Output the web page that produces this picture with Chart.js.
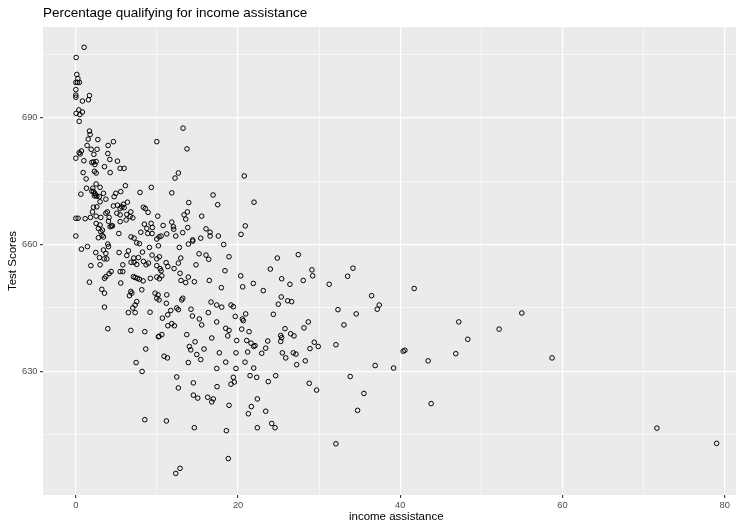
<!DOCTYPE html>
<html>
<head>
<meta charset="utf-8">
<script src="https://cdn.jsdelivr.net/npm/chart.js@4"></script>
<style>
  html, body { margin: 0; padding: 0; background: #ffffff; }
  #wrap { width: 742px; height: 523px; }
</style>
</head>
<body>
<div id="wrap"><canvas id="chart" width="742" height="523"></canvas></div>
<script>
// Share of pupils qualifying for income assistance (%) per school district
const incomeAssistance = [
  1.02,0.04,0.12,0.25,0.0,0.2,0.44,0.0,0.0,0.0,
  1.68,1.55,0.81,0.37,0.04,0.49,0.81,0.41,1.68,1.76,
  1.52,2.71,9.98,4.63,3.98,1.39,1.89,2.62,2.22,0.69,
  0.41,0.53,3.94,0.0,0.99,1.97,2.17,2.50,2.34,4.19,
  5.13,5.46,5.95,3.53,0.90,2.29,2.50,4.23,

  1.27,2.50,2.99,2.09,1.97,2.17,2.34,2.46,2.29,2.59,
  2.91,1.31,0.62,3.40,3.70,2.99,2.59,2.17,2.05,1.80,
  2.50,3.08,3.70,3.89,4.10,4.02,4.51,4.23,2.50,2.99,
  2.78,3.28,3.08,3.24,3.40,2.78,4.93,4.72,5.54,6.11,
  7.92,9.31,4.63,5.13,5.67,5.87,6.36,5.46,5.95,5.05,
  5.46,6.28,6.69,6.20,7.02,6.78,8.33,8.57,8.91,10.10,
  0.0,0.28,1.15,5.46,4.39,5.30,6.81,7.18,7.51,7.84,
  8.01,8.45,8.75,9.28,9.44,8.87,9.40,9.98,10.26,10.18,
  0.0,0.69,1.43,2.46,3.40,3.94,4.02,3.70,2.91,3.49,
  3.82,2.99,1.85,5.33,5.79,6.28,6.48,7.14,6.81,7.18,
  7.51,7.71,8.21,8.33,8.66,8.95,9.07,9.40,9.98,9.98,
  4.35,4.10,3.70,5.46,5.79,5.54,7.10,7.59,7.84,8.29,
  9.19,9.98,1.68,3.20,3.53,6.78,6.61,8.13,9.77,9.98,
  7.51,7.31,7.02,3.53,6.48,7.31,9.15,3.53,6.90,10.14,
  7.31,10.30,10.30,

  3.94,6.78,8.50,10.18,8.62,7.43,8.17,8.50,

  13.22,13.71,12.64,12.23,20.77,11.83,16.92,13.92,17.49,21.97,
  13.75,13.34,13.55,15.52,10.76,11.83,12.03,12.07,13.80,16.05,
  16.55,16.55,17.57,11.21,10.51,12.32,13.18,20.37,20.89,14.41,
  15.40,

  12.76,13.87,14.41,18.23,12.94,12.64,15.19,16.05,16.39,18.89,
  11.13,11.34,10.39,10.51,10.60,12.11,14.82,12.85,13.87,12.97,
  13.55,14.61,16.46,18.39,20.33,20.57,21.88,17.94,10.26,11.21,
  11.16,13.18,13.06,16.67,17.37,17.99,19.13,19.42,12.44,12.64,
  11.70,14.20,16.34,11.34,10.67,14.37,15.23,15.52,17.37,19.66,
  20.53,20.65,20.94,11.34,11.83,12.15,13.68,16.76,18.48,18.89,
  18.73,20.45,19.83,21.07,21.60,21.93,21.19,10.26,10.60,14.00,
  14.17,14.70,15.81,14.91,15.40,17.69,19.75,18.48,10.88,11.29,
  13.87,20.86,17.37,19.75,21.93,21.48,12.44,19.42,

  12.64,14.49,17.41,19.13,19.54,14.49,15.03,16.26,16.95,16.76,
  18.89,21.64,21.27,11.16,14.61,18.56,18.80,12.85,12.32,

  24.84,27.43,23.98,29.11,29.20,25.38,26.40,28.04,31.24,23.11,25.33,

  24.96,26.12,26.61,24.35,32.32,28.66,28.13,25.79,25.26,25.38,
  25.26,26.49,26.90,23.66,21.36,22.09,23.41,22.92,29.40,29.89,
  28.87,32.07,25.46,25.88,26.81,27.14,27.23,28.29,22.30,24.64,
  23.73,28.78,29.69,22.38,23.41,24.15,24.56,22.38,32.07,

  34.17,33.51,36.47,37.41,37.16,34.57,33.06,41.72,47.22,48.33,
  52.19,54.99,58.72,46.85,40.36,40.57,43.44,36.91,39.18,33.83,
  35.52,34.74,43.81,71.65,79.01
];

// Average test score of the same districts, in the same order
const testScores = [
  706.6,704.2,700.2,699.2,698.3,698.3,698.3,696.6,695.3,694.8,
  695.2,694.2,693.9,691.8,691.0,690.7,691.3,689.1,686.8,686.0,
  684.9,684.8,684.3,684.3,683.4,683.4,682.5,682.5,681.3,682.1,
  681.7,681.4,681.5,680.4,679.8,679.4,679.5,679.6,678.9,680.1,
  679.7,678.0,678.0,678.4,677.0,677.3,676.9,677.0,

  675.5,674.3,673.5,673.3,672.6,672.5,672.1,671.7,671.5,671.4,
  671.3,673.3,671.9,672.1,670.7,670.1,668.9,668.8,667.7,666.4,
  666.7,666.4,667.4,667.7,666.4,665.5,664.4,664.2,665.0,664.6,
  663.8,663.4,663.0,662.2,661.8,661.6,672.1,671.3,672.5,673.9,
  672.3,673.5,669.1,669.3,668.9,669.5,670.0,668.5,668.7,667.4,
  667.0,667.1,666.6,665.8,666.3,667.7,668.8,668.5,667.6,666.7,
  666.2,666.2,666.1,665.4,664.4,662.6,661.8,661.5,660.4,660.2,
  662.9,664.8,663.8,665.0,664.0,662.6,662.6,661.3,661.8,659.7,
  662.0,658.9,659.5,658.1,658.7,660.1,659.5,657.9,656.9,656.6,
  656.6,655.2,655.0,658.1,655.2,657.4,658.5,656.8,655.8,655.8,
  655.3,656.9,658.2,656.0,655.2,655.6,659.3,657.5,656.6,655.0,
  653.6,653.1,652.4,653.6,653.6,650.9,652.4,652.0,651.8,651.4,
  652.0,652.3,651.1,649.4,648.5,648.9,647.9,649.3,648.5,647.3,
  646.5,645.7,645.0,645.2,643.9,643.9,644.0,652.0,648.5,648.1,
  652.2,651.9,657.1,

  640.1,639.7,639.4,638.2,635.3,632.1,630.0,618.6,

  687.5,682.6,676.9,675.7,676.2,672.2,671.7,669.9,669.4,670.0,
  667.7,667.0,666.0,666.7,664.5,665.3,664.2,663.6,664.0,663.7,
  662.9,662.0,662.0,662.5,662.0,662.0,662.8,662.4,664.4,661.1,
  661.5,

  659.3,660.1,660.8,660.0,656.8,655.6,657.8,657.5,656.5,657.1,
  655.7,654.8,654.3,653.8,652.6,654.3,655.2,653.2,652.3,651.5,
  651.0,651.2,651.5,653.8,652.6,650.0,650.8,649.8,646.9,648.1,
  646.1,647.3,646.9,646.4,645.7,645.2,645.7,645.3,645.0,644.6,
  644.4,644.7,643.9,643.4,642.6,643.1,642.4,641.0,641.7,643.0,
  642.4,642.0,643.6,640.8,641.3,640.8,638.7,637.9,640.2,639.7,
  638.4,640.0,637.3,637.3,636.7,635.9,634.6,638.3,638.7,635.9,
  635.1,637.0,635.3,634.0,632.8,634.4,634.4,632.2,633.6,633.2,
  632.1,632.2,630.7,630.7,630.8,629.0,628.7,628.6,

  626.1,627.3,626.4,627.0,627.5,624.4,623.7,623.9,623.5,622.8,
  622.0,621.7,620.0,618.3,616.7,616.0,609.4,607.1,605.9,

  656.8,657.6,654.2,654.0,652.6,651.9,650.6,651.5,650.6,649.1,647.6,

  645.9,646.7,646.5,643.5,644.6,641.7,640.3,640.1,638.5,638.0,
  637.1,638.9,638.4,637.2,639.4,636.1,635.5,634.3,636.9,635.9,
  635.4,636.3,634.4,633.2,634.4,634.1,631.6,632.5,628.6,629.0,
  627.6,627.2,625.6,623.5,620.6,617.7,616.7,616.7,612.9,

  654.4,652.5,647.9,645.7,644.7,643.6,641.0,649.6,641.7,637.6,
  640.0,643.8,633.2,634.2,634.8,635.0,632.5,631.4,630.8,628.8,
  624.8,620.8,622.4,616.6,613.0
];

// Labelled breaks on each axis (unlabelled half-steps get thin lines)
const xMajorTicks = [0, 20, 40, 60, 80];
const yMajorTicks = [630, 660, 690];

const chartTitle = 'Percentage qualifying for income assistance';
const xAxisTitle = 'income assistance';
const yAxisTitle = 'Test Scores';

if (incomeAssistance.length !== testScores.length) {
  console.error('length mismatch', incomeAssistance.length, testScores.length);
}

const points = incomeAssistance.map((x, i) => ({ x: x, y: testScores[i] }));

// x range padded by 5% on both sides; the x title is centred on it
const xDataMin = Math.min(...incomeAssistance);
const xDataMax = Math.max(...incomeAssistance);
const xPad = 0.05 * (xDataMax - xDataMin);

const FONT = '"Liberation Sans", Arial, Helvetica, sans-serif';
const PANEL_BG = '#EBEBEB';

// Grey panel behind the grid
const panelBackground = {
  id: 'panelBackground',
  beforeDraw(chart) {
    const { ctx, chartArea: a } = chart;
    ctx.save();
    ctx.fillStyle = PANEL_BG;
    ctx.fillRect(a.left, a.top, a.right - a.left, a.bottom - a.top);
    ctx.restore();
  }
};

// Plot title (left-aligned with the panel) and x-axis title
const plotTexts = {
  id: 'plotTexts',
  afterDraw(chart) {
    const { ctx, chartArea: a } = chart;
    const xs = chart.scales.x;
    ctx.save();
    ctx.fillStyle = '#000000';
    ctx.font = '13.5px ' + FONT;
    ctx.textAlign = 'left';
    ctx.textBaseline = 'alphabetic';
    ctx.fillText(chartTitle, a.left, 17);

    const cx = (xs.getPixelForValue(xDataMin - xPad) + xs.getPixelForValue(xDataMax + xPad)) / 2;
    ctx.font = '11.5px ' + FONT;
    ctx.textAlign = 'center';
    ctx.textBaseline = 'middle';
    ctx.fillText(xAxisTitle, cx, 517);
    ctx.restore();
  }
};

const isMajor = (list, v) => list.some(t => Math.abs(t - v) < 1e-6);

new Chart(document.getElementById('chart'), {
  type: 'scatter',
  data: {
    datasets: [{
      data: points,
      pointStyle: 'circle',
      pointRadius: 2.3,
      pointHoverRadius: 2.3,
      pointBorderWidth: 1,
      pointBorderColor: '#000000',
      pointBackgroundColor: 'rgba(0,0,0,0)',
      showLine: false
    }]
  },
  options: {
    responsive: false,
    devicePixelRatio: 1,
    animation: false,
    events: [],
    layout: { padding: { top: 27, right: 6, bottom: 0, left: 0 } },
    plugins: {
      legend: { display: false },
      tooltip: { enabled: false },
      title: { display: false }
    },
    scales: {
      x: {
        type: 'linear',
        min: -4.05,
        max: 81.4,
        afterFit(scale) { scale.height = 28; },
        border: { display: false },
        grid: {
          color: '#FFFFFF',
          lineWidth: c => (c.tick && isMajor(xMajorTicks, c.tick.value)) ? 1.2 : 0.6,
          drawTicks: true,
          tickLength: 3,
          tickWidth: 1.1,
          tickColor: c => (c.tick && isMajor(xMajorTicks, c.tick.value)) ? '#333333' : 'rgba(0,0,0,0)'
        },
        ticks: {
          stepSize: 10,
          includeBounds: false,
          autoSkip: false,
          maxRotation: 0,
          padding: 2,
          color: '#4D4D4D',
          font: { family: FONT, size: 9.3 },
          callback: v => isMajor(xMajorTicks, v) ? String(Math.round(v)) : ''
        },
        title: { display: false }
      },
      y: {
        type: 'linear',
        min: 600.8,
        max: 711.4,
        afterFit(scale) { scale.width = 43; },
        border: { display: false },
        grid: {
          color: '#FFFFFF',
          lineWidth: c => (c.tick && isMajor(yMajorTicks, c.tick.value)) ? 1.2 : 0.6,
          drawTicks: true,
          tickLength: 3,
          tickWidth: 1.1,
          tickColor: c => (c.tick && isMajor(yMajorTicks, c.tick.value)) ? '#333333' : 'rgba(0,0,0,0)'
        },
        ticks: {
          stepSize: 15,
          includeBounds: false,
          autoSkip: false,
          padding: 2.5,
          color: '#4D4D4D',
          font: { family: FONT, size: 9.3 },
          callback: v => isMajor(yMajorTicks, v) ? String(Math.round(v)) : ''
        },
        title: {
          display: true,
          text: yAxisTitle,
          color: '#000000',
          font: { family: FONT, size: 11.5 },
          padding: { top: 6, bottom: 0 }
        }
      }
    }
  },
  plugins: [panelBackground, plotTexts]
});
</script>
</body>
</html>
